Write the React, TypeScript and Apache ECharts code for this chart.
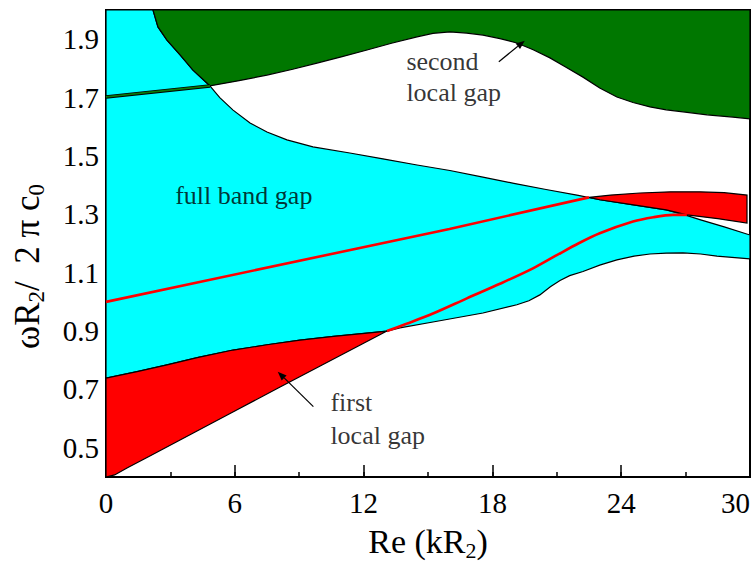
import React, { useEffect, useRef } from "react";
import * as echarts from "echarts";

const X_MIN = 0;
const X_MAX = 30;
const Y_MIN = 0.4;
const Y_MAX = 2.0;
const xTickValues = [0, 6, 12, 18, 24, 30];
const yTickLabels = [0.5, 0.7, 0.9, 1.1, 1.3, 1.5, 1.7, 1.9];

// upper boundary of the full band gap (cyan)
const cyanTop: number[][] = [
  [2.19, 2.0], [2.42, 1.942], [2.84, 1.897], [3.45, 1.846], [4.05, 1.794], [4.7, 1.75], [4.84, 1.74],
  [5.3, 1.7], [5.92, 1.657], [6.71, 1.613], [7.5, 1.582], [8.43, 1.555], [9.64, 1.531], [11.36, 1.51],
  [12.9, 1.49], [14.49, 1.469], [16.02, 1.45], [17.5, 1.428], [19.0, 1.406], [20.5, 1.385], [22.0, 1.365],
  [23.0, 1.35], [24.5, 1.333], [26.1, 1.315], [27.0, 1.297], [27.7, 1.281], [28.8, 1.257], [30.0, 1.229],
];
// lower boundary of the full band gap
const cyanBottom: number[][] = [
  [0, 0.739], [1.5, 0.762], [2.84, 0.784], [4.3, 0.81], [5.92, 0.835], [7.5, 0.853], [9.04, 0.869],
  [10.6, 0.882], [12.16, 0.893], [13.09, 0.9], [13.69, 0.911], [15.23, 0.931], [17.56, 0.962],
  [19.14, 0.99], [19.7, 1.004], [20.21, 1.024], [20.7, 1.052], [21.15, 1.073], [21.6, 1.09], [22.22, 1.104],
  [23.0, 1.126], [23.8, 1.144], [24.6, 1.157], [25.34, 1.164], [26.1, 1.167], [26.88, 1.168], [27.7, 1.164],
  [28.46, 1.157], [30.0, 1.147],
];
// lower boundary of the upper (green) band
const greenBottom: number[][] = [
  [4.84, 1.74], [6.2, 1.758], [7.5, 1.777], [8.7, 1.797], [9.83, 1.818], [11.0, 1.84], [12.16, 1.863],
  [13.3, 1.886], [14.49, 1.908], [15.23, 1.92], [16.02, 1.925], [16.8, 1.921], [17.56, 1.914],
  [18.35, 1.902], [19.14, 1.887], [19.9, 1.864], [20.68, 1.836], [21.45, 1.803], [22.22, 1.77],
  [23.0, 1.733], [23.8, 1.702], [24.55, 1.683], [25.34, 1.668], [26.1, 1.658], [26.88, 1.651],
  [28.0, 1.641], [29.2, 1.633], [30.0, 1.627],
];
const greenLine: number[][] = [[0, 1.702], [4.84, 1.74]];
// first local gap, lower edge
const redLow: number[][] = [
  [0, 0.4], [0.4, 0.407], [1.0, 0.432], [2.0, 0.47], [4.0, 0.548], [6.0, 0.626], [8.0, 0.704],
  [10.0, 0.781], [12.0, 0.858], [13.09, 0.9],
];
const redMid: number[][] = [[0, 1.0], [16.0, 1.25], [22.5, 1.358]];
const redRise: number[][] = [
  [13.09, 0.9], [14.0, 0.925], [15.23, 0.96], [16.81, 1.012], [18.35, 1.062], [19.89, 1.115],
  [21.0, 1.16], [22.0, 1.2], [23.0, 1.235], [24.55, 1.275], [25.5, 1.29], [26.41, 1.298], [27.06, 1.298],
];
const redCapTop: number[][] = [[22.5, 1.358], [23.5, 1.366], [24.87, 1.373], [26.3, 1.377], [27.67, 1.377], [28.8, 1.374], [29.86, 1.366]];
const redCapBottom: number[][] = [[29.86, 1.27], [28.5, 1.285], [27.06, 1.298]];

const labelTexts = ["full band gap", "second", "local gap", "first", "local gap"];
const labelPos: number[][] = [[3.2, 1.363], [13.97, 1.822], [13.97, 1.716], [10.43, 0.654], [10.43, 0.541]];
const arrowStart: number[][] = [[18.3, 1.823], [9.66, 0.641]];
const arrowEnd: number[][] = [[19.51, 1.895], [8.0, 0.761]];

const FONT = "Liberation Serif";
const LABEL_FONT = "'Liberation Serif', 'Times New Roman', serif";

function polySeries(name: string, pts: number[][], fill: string, z: number) {
  return {
    type: "custom",
    name,
    coordinateSystem: "cartesian2d",
    z,
    clip: true,
    silent: true,
    data: pts,
    renderItem: (params: any, api: any) => {
      if (params.dataIndex !== 0) return null;
      return {
        type: "polygon",
        shape: { points: pts.map((p) => api.coord(p)) },
        style: { fill, stroke: "#000", lineWidth: 1.2 },
      };
    },
  };
}

function lineSeries(name: string, pts: number[][], color: string, width: number, z: number, smooth: any = false) {
  return {
    type: "line",
    name,
    z,
    data: pts,
    showSymbol: false,
    smooth,
    silent: true,
    lineStyle: { color, width },
  };
}

export default function App() {
  const ref = useRef<HTMLDivElement>(null);
  useEffect(() => {
    if (!ref.current) return;
    const chart = echarts.init(ref.current, null, { renderer: "svg" });

    const cyanPoly = [[0, Y_MAX], ...cyanTop, ...[...cyanBottom].reverse()];
    const greenPoly = [
      ...cyanTop.filter((p) => p[0] < 4.84),
      ...greenBottom,
      [X_MAX, Y_MAX],
    ];
    const red1Poly = [...redLow, ...cyanBottom.filter((p) => p[0] < 13.09).reverse()];
    const red2Poly = [
      ...redCapTop,
      ...redCapBottom,
      ...cyanTop.filter((p) => p[0] > 22.5 && p[0] < 27.0).reverse(),
    ];

    const option: any = {
      animation: false,
      backgroundColor: "#fff",
      textStyle: { fontFamily: FONT },
      grid: { left: 106, right: 6, top: 10, bottom: 97, show: true, borderColor: "#000", borderWidth: 2, backgroundColor: "transparent" },
      xAxis: [
        {
          type: "value",
          min: X_MIN,
          max: X_MAX,
          interval: 6,
          position: "bottom",
          splitLine: { show: false },
          axisLine: { lineStyle: { color: "#000", width: 2 } },
          axisTick: { inside: true, length: 12, lineStyle: { color: "#000", width: 1.5 } },
          axisLabel: {
            color: "#000",
            fontFamily: FONT,
            fontSize: 29,
            margin: 11,
            alignMaxLabel: "right",
            formatter: (v: number) => (xTickValues.includes(v) ? String(v) : ""),
          },
          name: "Re (kR{s|2})",
          nameLocation: "middle",
          nameGap: 44,
          nameTextStyle: {
            color: "#000",
            fontFamily: FONT,
            fontSize: 34,
            lineHeight: 40,
            rich: { s: { fontFamily: FONT, fontSize: 22, lineHeight: 22, verticalAlign: "bottom", color: "#000" } },
          },
        },
        {
          type: "value",
          min: X_MIN,
          max: X_MAX,
          interval: 3,
          position: "bottom",
          splitLine: { show: false },
          axisLine: { show: false },
          axisTick: { inside: true, length: 5, lineStyle: { color: "#000", width: 1.5 } },
          axisLabel: { show: false },
        },
      ],
      yAxis: [
        {
          type: "value",
          min: Y_MIN,
          max: Y_MAX,
          interval: 0.1,
          position: "left",
          splitLine: { show: false },
          axisLine: { lineStyle: { color: "#000", width: 2 } },
          axisTick: { inside: true, length: 9, lineStyle: { color: "#000", width: 1.5 } },
          axisLabel: {
            color: "#000",
            fontFamily: FONT,
            fontSize: 29,
            margin: 7,
            formatter: (v: number) => {
              const hit = yTickLabels.find((t) => Math.abs(t - v) < 1e-6);
              return hit !== undefined ? hit.toFixed(1) : "";
            },
          },
          name: "{a|ωR}{s|2}{a|/  2 π c}{s|0}",
          nameLocation: "middle",
          nameGap: 58,
          nameRotate: 90,
          nameTextStyle: {
            color: "#000",
            fontFamily: FONT,
            fontSize: 35,
            padding: [0, 46, 0, 0],
            rich: {
              a: { fontFamily: FONT, fontSize: 35, lineHeight: 42, color: "#000" },
              s: { fontFamily: FONT, fontSize: 23, lineHeight: 23, verticalAlign: "bottom", color: "#000" },
            },
          },
        },
        {
          type: "value",
          min: Y_MIN,
          max: Y_MAX,
          position: "left",
          splitLine: { show: false },
          axisLine: { show: false },
          axisTick: { inside: true, length: 13, customValues: yTickLabels, lineStyle: { color: "#000", width: 1.8 } },
          axisLabel: { show: false, customValues: yTickLabels },
        },
      ],
      series: [
        polySeries("full band gap", cyanPoly, "#00ffff", 1),
        polySeries("upper band", greenPoly, "#007700", 2),
        polySeries("first local gap", red1Poly, "#ff0000", 3),
        polySeries("first local gap cap", red2Poly, "#ff0000", 3),
        lineSeries("green edge", greenLine, "#000", 3.5, 4),
        lineSeries("green line", greenLine, "#0a7a0a", 1.8, 5),
        lineSeries("red mid", redMid, "#ff0000", 2.6, 6),
        lineSeries("red rise", redRise, "#ff0000", 2.6, 6, 0.3),
        {
          type: "scatter",
          name: "labels",
          z: 10,
          silent: true,
          data: labelPos,
          symbolSize: 1,
          itemStyle: { color: "rgba(0,0,0,0)" },
          label: {
            show: true,
            position: "right",
            distance: 0,
            color: "#000",
            fontFamily: LABEL_FONT,
            fontSize: 26,
            fontWeight: "normal",
            textBorderWidth: 0,
            formatter: (p: any) => labelTexts[p.dataIndex],
          },
        },
        {
          type: "custom",
          name: "arrows",
          coordinateSystem: "cartesian2d",
          z: 10,
          silent: true,
          data: arrowStart,
          renderItem: (params: any, api: any) => {
            const s = api.coord(arrowStart[params.dataIndex]);
            const e = api.coord(arrowEnd[params.dataIndex]);
            const dx = e[0] - s[0];
            const dy = e[1] - s[1];
            const len = Math.sqrt(dx * dx + dy * dy);
            const ux = dx / len;
            const uy = dy / len;
            const hl = 9;
            const hw = 3.5;
            const bx = e[0] - ux * hl;
            const by = e[1] - uy * hl;
            return {
              type: "group",
              children: [
                { type: "line", shape: { x1: s[0], y1: s[1], x2: bx, y2: by }, style: { stroke: "#000", lineWidth: 1.2 } },
                {
                  type: "polygon",
                  shape: { points: [[e[0], e[1]], [bx - uy * hw, by + ux * hw], [bx + uy * hw, by - ux * hw]] },
                  style: { fill: "#000" },
                },
              ],
            };
          },
        },
      ],
    };
    chart.setOption(option);
    return () => chart.dispose();
  }, []);
  return <div ref={ref} style={{ position: "fixed", left: 0, top: 0, width: 756, height: 574 }} />;
}
